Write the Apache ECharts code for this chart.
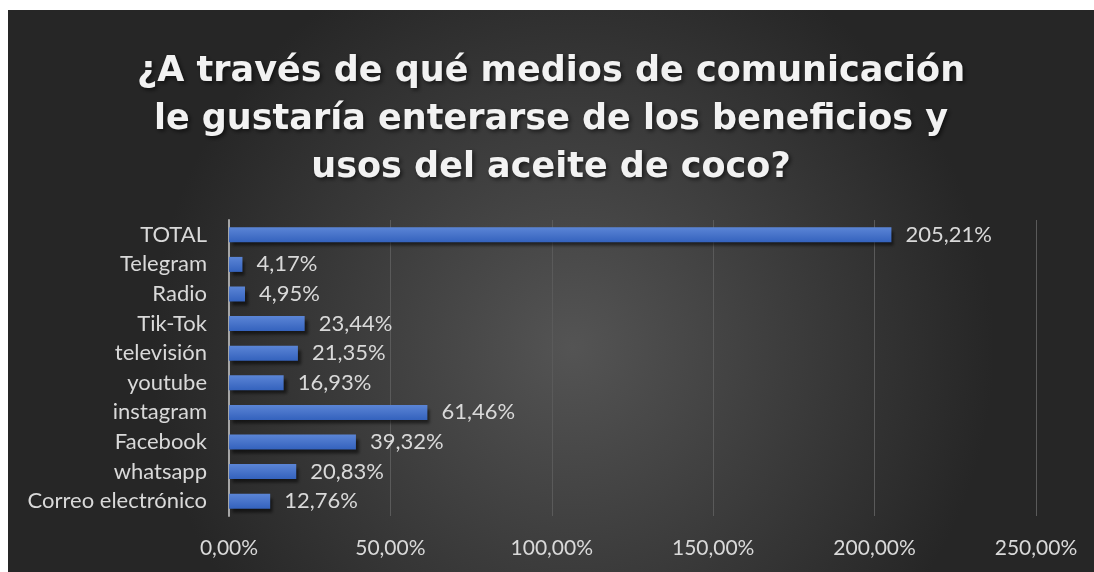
<!DOCTYPE html>
<html>
<head>
<meta charset="utf-8">
<title>Medios de comunicación</title>
<script src="https://cdn.jsdelivr.net/npm/echarts@6/dist/echarts.min.js"></script>
<style>
    html, body { margin: 0; padding: 0; background: #ffffff; }
    #chart { position: absolute; left: 8px; top: 10px; width: 1086px; height: 562px; }
</style>
</head>
<body>
<div id="chart"></div>
<script>
    // datos (de abajo hacia arriba, como los dibuja el eje de categorías)
    var categories = ['Correo electrónico', 'whatsapp', 'Facebook', 'instagram', 'youtube',
        'televisión', 'Tik-Tok', 'Radio', 'Telegram', 'TOTAL'];
    var values = [12.76, 20.83, 39.32, 61.46, 16.93, 21.35, 23.44, 4.95, 4.17, 205.21];
    var ticks = [0, 50, 100, 150, 200, 250];

    var titleText = '¿A través de qué medios de comunicación\nle gustaría enterarse de los beneficios y\nusos del aceite de coco?';

    function pct(v) {
        return v.toFixed(2).replace('.', ',') + '%';
    }

    var chart = echarts.init(document.getElementById('chart'));
    chart.setOption({
        backgroundColor: {
            type: 'radial', x: 0.52, y: 0.6, r: 0.75,
            colorStops: [
                {offset: 0, color: '#545454'},
                {offset: 1, color: '#262626'}
            ]
        },
        title: {
            text: titleText,
            left: 'center',
            top: 33,
            textStyle: {
                color: '#f2f2f2',
                fontFamily: 'DejaVu Sans',
                fontWeight: 'bold',
                fontSize: 35,
                lineHeight: 48,
                textShadowColor: 'rgba(0,0,0,0.6)',
                textShadowBlur: 4,
                textShadowOffsetX: 2,
                textShadowOffsetY: 2
            }
        },
        grid: {left: 221, right: 58, top: 210, bottom: 56},
        xAxis: {
            type: 'value',
            min: ticks[0],
            max: ticks[ticks.length - 1],
            interval: 50,
            axisLine: {show: false},
            axisTick: {show: false},
            splitLine: {lineStyle: {color: '#5a5a5a', width: 1}},
            axisLabel: {
                color: '#d9d9d9', fontFamily: 'Lato', fontSize: 21, margin: 22,
                formatter: function (v) { return pct(v); }
            }
        },
        yAxis: {
            type: 'category',
            data: categories,
            axisTick: {show: false},
            axisLine: {lineStyle: {color: '#a6a6a6', width: 2}},
            axisLabel: {color: '#d9d9d9', fontFamily: 'Lato', fontSize: 22, margin: 22}
        },
        series: [{
            type: 'bar',
            data: values,
            barWidth: 15,
            itemStyle: {
                color: {
                    type: 'linear', x: 0, y: 0, x2: 0, y2: 1,
                    colorStops: [
                        {offset: 0, color: '#5b85d6'},
                        {offset: 1, color: '#3462bd'}
                    ]
                },
                shadowColor: 'rgba(0,0,0,0.55)',
                shadowBlur: 3,
                shadowOffsetX: 3,
                shadowOffsetY: 4
            },
            label: {
                show: true,
                position: 'right',
                distance: 14,
                color: '#d9d9d9',
                fontFamily: 'Lato',
                fontSize: 22,
                formatter: function (p) { return pct(p.value); }
            }
        }]
    });
    window.onresize = chart.resize;
</script>
</body>
</html>
